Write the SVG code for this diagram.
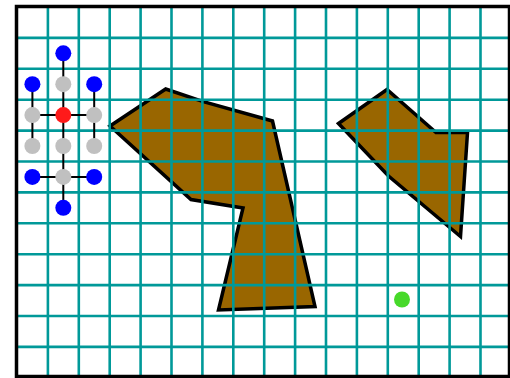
<svg xmlns="http://www.w3.org/2000/svg" width="510" height="378" viewBox="0 0 510 378">
<style>
.grid line{stroke:#009999;stroke-width:2.6}
.poly{fill:#996600;stroke:#000;stroke-width:3.5;stroke-linejoin:miter}
.edge{stroke:#000;stroke-width:2}
.blue{fill:#0000ff}
.gray{fill:#c0c0c0}
.red{fill:#ff1a1a}
.green{fill:#47d92a}
</style>
<rect x="0" y="0" width="510" height="378" fill="#fff"/>
<g id="obstacle1"><polygon class="poly" points="110,126 165.7,89 203.3,101.7 272.5,121 315,306.5 218.5,310 243,208 191,199.5"/></g>
<g id="obstacle2"><polygon class="poly" points="338.5,123.5 387,89.5 436,132.5 467.5,132.5 460.5,236.5 388.5,176"/></g>
<g class="grid">
<line x1="47.9" y1="7" x2="47.9" y2="377"/>
<line x1="78.8" y1="7" x2="78.8" y2="377"/>
<line x1="109.7" y1="7" x2="109.7" y2="377"/>
<line x1="140.6" y1="7" x2="140.6" y2="377"/>
<line x1="171.5" y1="7" x2="171.5" y2="377"/>
<line x1="202.4" y1="7" x2="202.4" y2="377"/>
<line x1="233.3" y1="7" x2="233.3" y2="377"/>
<line x1="264.2" y1="7" x2="264.2" y2="377"/>
<line x1="295.1" y1="7" x2="295.1" y2="377"/>
<line x1="326" y1="7" x2="326" y2="377"/>
<line x1="356.9" y1="7" x2="356.9" y2="377"/>
<line x1="387.8" y1="7" x2="387.8" y2="377"/>
<line x1="418.7" y1="7" x2="418.7" y2="377"/>
<line x1="449.6" y1="7" x2="449.6" y2="377"/>
<line x1="480.5" y1="7" x2="480.5" y2="377"/>
<line x1="17" y1="37.9" x2="510" y2="37.9"/>
<line x1="17" y1="68.8" x2="510" y2="68.8"/>
<line x1="17" y1="99.7" x2="510" y2="99.7"/>
<line x1="17" y1="130.6" x2="510" y2="130.6"/>
<line x1="17" y1="161.5" x2="510" y2="161.5"/>
<line x1="17" y1="192.4" x2="510" y2="192.4"/>
<line x1="17" y1="223.3" x2="510" y2="223.3"/>
<line x1="17" y1="254.2" x2="510" y2="254.2"/>
<line x1="17" y1="285.1" x2="510" y2="285.1"/>
<line x1="17" y1="316" x2="510" y2="316"/>
<line x1="17" y1="346.9" x2="510" y2="346.9"/>
</g>
<rect x="16.5" y="6.5" width="493" height="370" fill="none" stroke="#000" stroke-width="3.5"/>
<g id="connectors">
<line class="edge" x1="63.3" y1="53.3" x2="63.3" y2="207.7"/>
<line class="edge" x1="32.4" y1="84.2" x2="32.4" y2="146"/>
<line class="edge" x1="94.2" y1="84.2" x2="94.2" y2="146"/>
<line class="edge" x1="32.4" y1="115.1" x2="94.2" y2="115.1"/>
<line class="edge" x1="32.4" y1="176.9" x2="94.2" y2="176.9"/>
</g>
<g id="n1"><circle class="blue" cx="63.3" cy="53.3" r="8"/></g>
<g id="n2"><circle class="blue" cx="32.4" cy="84.2" r="8"/></g>
<g id="n3"><circle class="gray" cx="63.3" cy="84.2" r="8"/></g>
<g id="n4"><circle class="blue" cx="94.2" cy="84.2" r="8"/></g>
<g id="n5"><circle class="gray" cx="32.4" cy="115.1" r="8"/></g>
<g id="n6"><circle class="red" cx="63.3" cy="115.1" r="8"/></g>
<g id="n7"><circle class="gray" cx="94.2" cy="115.1" r="8"/></g>
<g id="n8"><circle class="gray" cx="32.4" cy="146" r="8"/></g>
<g id="n9"><circle class="gray" cx="63.3" cy="146" r="8"/></g>
<g id="n10"><circle class="gray" cx="94.2" cy="146" r="8"/></g>
<g id="n11"><circle class="blue" cx="32.4" cy="176.9" r="8"/></g>
<g id="n12"><circle class="gray" cx="63.3" cy="176.9" r="8"/></g>
<g id="n13"><circle class="blue" cx="94.2" cy="176.9" r="8"/></g>
<g id="n14"><circle class="blue" cx="63.3" cy="207.8" r="8"/></g>
<g id="goal"><circle class="green" cx="402" cy="299.5" r="8"/></g>
</svg>
